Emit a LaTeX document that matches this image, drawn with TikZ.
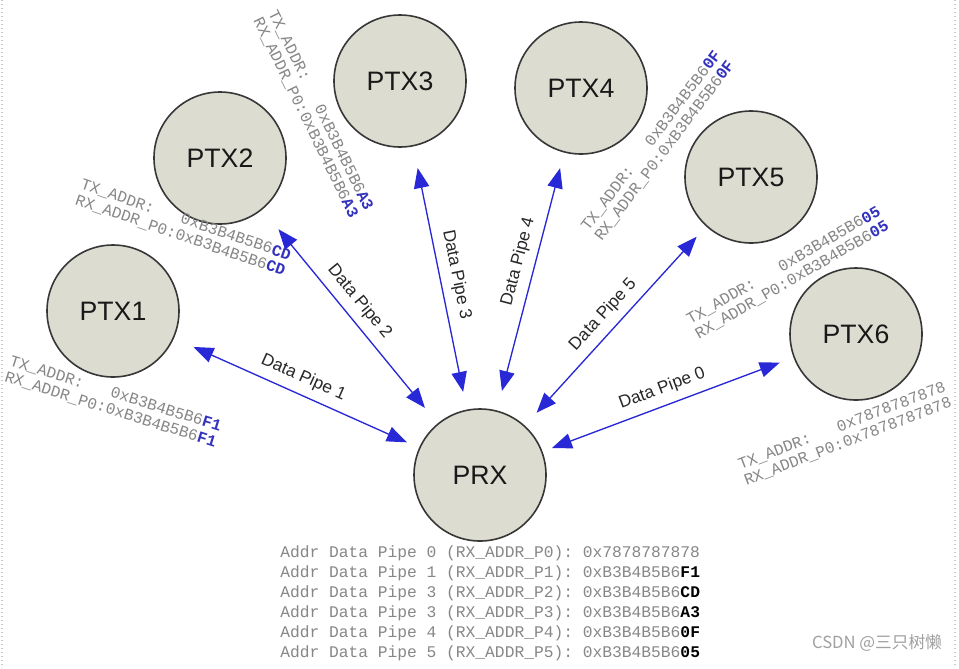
\documentclass[tikz,border=0pt]{standalone}
\usepackage{fontspec}
\setmainfont{Liberation Sans}
\setmonofont{Liberation Mono}
\newfontfamily\cjkfont{Noto Sans CJK SC}
\usetikzlibrary{arrows.meta}
\definecolor{circfill}{RGB}{220,220,208}
\definecolor{circdraw}{RGB}{55,55,55}
\definecolor{arrowblue}{RGB}{40,40,215}
\definecolor{lblgray}{RGB}{40,40,40}
\definecolor{addrgray}{RGB}{135,135,135}
\definecolor{sufblue}{RGB}{50,50,190}
\definecolor{wmgray}{RGB}{160,160,160}
\definecolor{dotgray}{RGB}{200,200,200}
\newcommand{\bsuf}[1]{\textcolor{sufblue}{\textbf{#1}}}
\newcommand{\ksuf}[1]{\textcolor{black}{\textbf{#1}}}
\begin{document}
\begin{tikzpicture}[x=0.75pt,y=-0.75pt,
  ptx/.style={circle, draw=circdraw, line width=1.2pt, fill=circfill, inner sep=0pt,
    minimum size=99pt, text=black!90, font=\fontsize{20}{24}\selectfont},
  pipe/.style={arrowblue, line width=1pt,
    arrows={Triangle[length=15pt,width=11.5pt]-Triangle[length=15pt,width=11.5pt]}},
  lbl/.style={sloped, above=5pt, inner sep=1pt, text=lblgray, font=\fontsize{13}{15}\selectfont},
  addr/.style={inner sep=0pt, align=left, text=addrgray, font=\ttfamily\fontsize{12}{12.5}\selectfont},
  tbl/.style={inner sep=0pt, align=left, text=addrgray, font=\ttfamily\fontsize{12.2}{15}\selectfont}
]
\fill[white] (0,0) rectangle (959,668);
\useasboundingbox (0,0) rectangle (959,668);
\draw[dotgray, dotted, line width=1pt] (2,0) -- (2,668);
\draw[dotgray, dotted, line width=1pt] (955,0) -- (955,668);

\node[ptx] (PTX1) at (113,311) {PTX1};
\node[ptx] (PTX2) at (220,158) {PTX2};
\node[ptx] (PTX3) at (400,81) {PTX3};
\node[ptx] (PTX4) at (581,88) {PTX4};
\node[ptx] (PTX5) at (751,177) {PTX5};
\node[ptx] (PTX6) at (856,334) {PTX6};
\node[ptx] (PRX) at (480,475) {PRX};

\draw[pipe, shorten <=16pt, shorten >=10pt] (PTX1) -- node[lbl] {Data Pipe 1} (PRX);
\draw[pipe, shorten <=19pt, shorten >=15pt] (PTX2) -- node[lbl, pos=0.48] {Data Pipe 2} (PRX);
\draw[pipe, shorten <=16.5pt, shorten >=13.5pt] (PTX3) -- node[lbl] {Data Pipe 3} (PRX);
\draw[pipe, shorten <=12pt, shorten >=15pt] (PTX4) -- node[lbl, pos=0.44] {Data Pipe 4} (PRX);
\draw[pipe, shorten <=10.5pt, shorten >=13pt] (PTX5) -- node[lbl] {Data Pipe 5} (PRX);
\draw[pipe, shorten <=11pt, shorten >=7.5pt] (PTX6) -- node[lbl] {Data Pipe 0} (PRX);

\node[addr, rotate=-17.5] (a1) at (113,402) {TX\_ADDR:\ \ \ 0xB3B4B5B6\bsuf{F1}\\RX\_ADDR\_P0:0xB3B4B5B6\bsuf{F1}};
\node[addr, rotate=-19] (a2) at (183,228) {TX\_ADDR:\ \ \ 0xB3B4B5B6\bsuf{CD}\\RX\_ADDR\_P0:0xB3B4B5B6\bsuf{CD}};
\node[addr, rotate=-64] (a3) at (313,114) {TX\_ADDR:\ \ \ 0xB3B4B5B6\bsuf{A3}\\RX\_ADDR\_P0:0xB3B4B5B6\bsuf{A3}};
\node[addr, rotate=53] (a4) at (658,146) {TX\_ADDR:\ \ \ 0xB3B4B5B6\bsuf{0F}\\RX\_ADDR\_P0:0xB3B4B5B6\bsuf{0F}};
\node[addr, rotate=30] (a5) at (788,273) {TX\_ADDR:\ \ \ 0xB3B4B5B6\bsuf{05}\\RX\_ADDR\_P0:0xB3B4B5B6\bsuf{05}};
\node[addr, rotate=21] (a6) at (845,434) {TX\_ADDR:\ \ \ 0x7878787878\\RX\_ADDR\_P0:0x7878787878};

\node[tbl, anchor=north west] (tab) at (280,545) {%
Addr Data Pipe 0 (RX\_ADDR\_P0): 0x7878787878\\
Addr Data Pipe 1 (RX\_ADDR\_P1): 0xB3B4B5B6\ksuf{F1}\\
Addr Data Pipe 3 (RX\_ADDR\_P2): 0xB3B4B5B6\ksuf{CD}\\
Addr Data Pipe 3 (RX\_ADDR\_P3): 0xB3B4B5B6\ksuf{A3}\\
Addr Data Pipe 4 (RX\_ADDR\_P4): 0xB3B4B5B6\ksuf{0F}\\
Addr Data Pipe 5 (RX\_ADDR\_P5): 0xB3B4B5B6\ksuf{05}};

\node[text=wmgray, font=\cjkfont\fontsize{12.5}{14}\selectfont] (wm) at (877,643) {CSDN @三只树懒};
\end{tikzpicture}
\end{document}
